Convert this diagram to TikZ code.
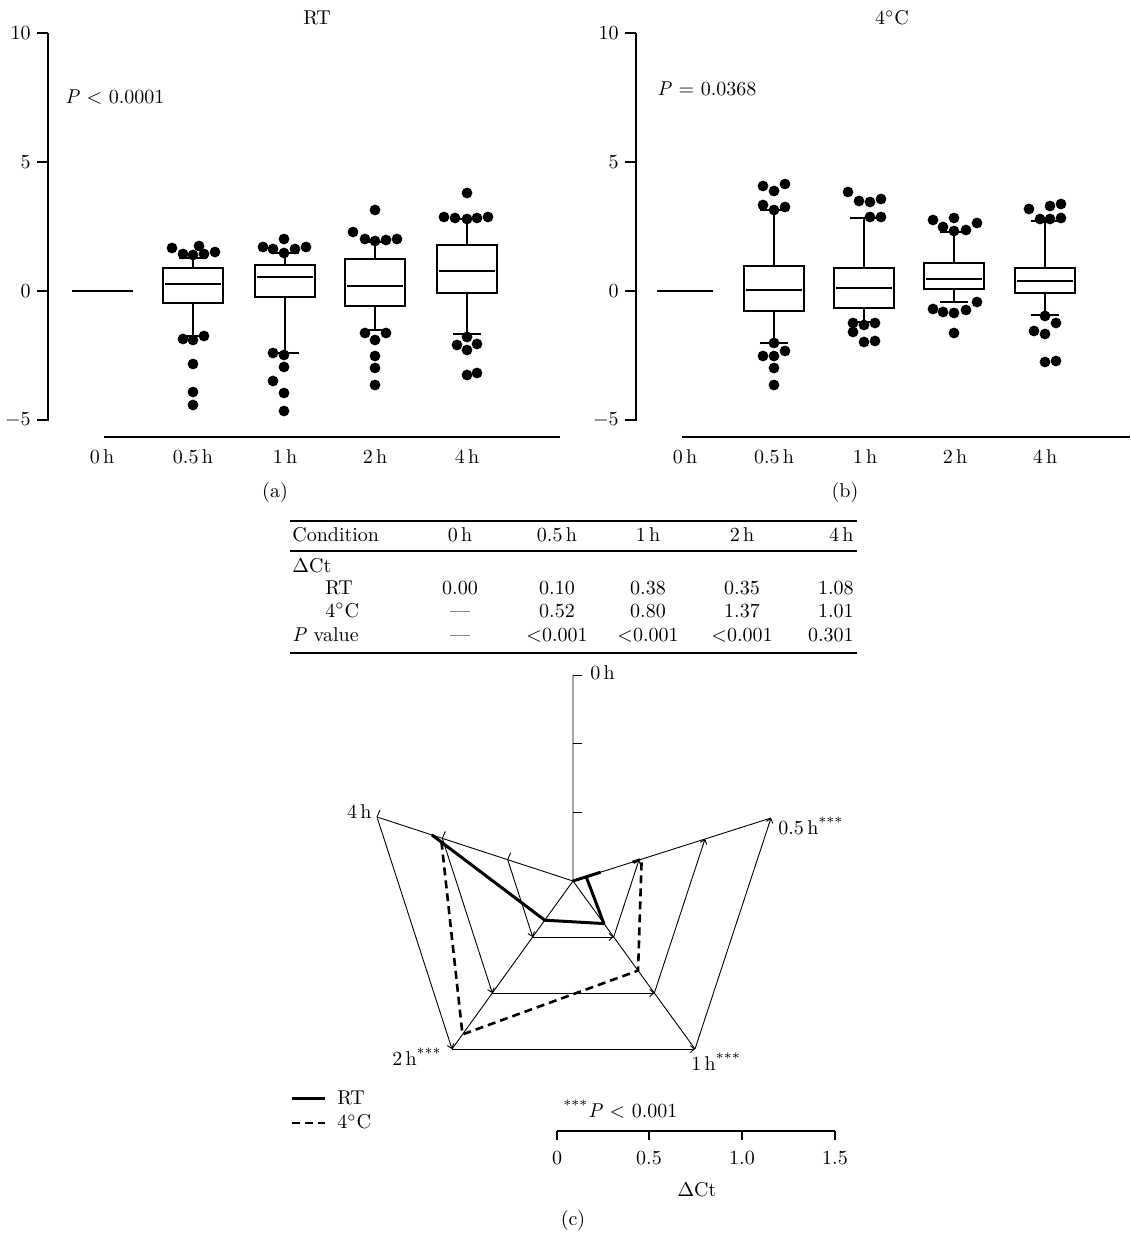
\documentclass[tikz,border=0pt]{standalone}
\usetikzlibrary{calc, arrows.meta}

\begin{document}
\begin{tikzpicture}[x=0.5pt, y=-0.5pt,
                    every node/.style={font=\fontsize{10}{12}\selectfont, inner sep=1pt},
                    axisline/.style={line width=0.65pt},
                    boxline/.style={line width=0.6pt},
                    datadot/.style={fill=black},
                    web/.style={line width=0.45pt},
                    webtip/.style={line width=0.45pt, -{Straight Barb[length=2pt,width=3.5pt]}},
                    rtline/.style={line width=1.5pt, line join=round},
                    coldline/.style={line width=1.3pt, dash pattern=on 4pt off 2.5pt},
                    rule/.style={line width=0.8pt}]
\useasboundingbox (0,0) rectangle (1130,1237);

% (a) and (b): box plots
\node (titleRT) at (317,18) {RT};
\node (titleCold) at (892,18) {4$^{\circ}$C};
\node[anchor=west] (pRT) at (63,97) {\textit{P} ${<}$ 0.0001};
\node[anchor=west] (pCold) at (655,89) {\textit{P} = 0.0368};
\draw[axisline] (48,33) -- (48,421);
\draw[axisline] (636,33) -- (636,421);
\foreach \y/\lab in {33/10, 162/5, 291/0, 420/$-5$} {
  \draw[axisline] (37,\y) -- (48,\y);
  \draw[axisline] (625,\y) -- (636,\y);
  \node[anchor=east] at (33,\y) {\lab};
  \node[anchor=east] at (621,\y) {\lab};
}
\draw[axisline] (104,437) -- (560,437);
\draw[axisline] (682,437) -- (1130,437);
\foreach \xa/\xb/\lab in {102/685/0\,h, 193/774/0.5\,h, 285/865/1\,h, 375/955/2\,h, 467/1045/4\,h} {
  \node at (\xa,457) {\lab};
  \node at (\xb,457) {\lab};
}
\node (capA) at (275,492) {(a)};
\node (capB) at (845,492) {(b)};
\draw[line width=0.9pt] (72,291) -- (133,291);
\draw[boxline] (657,291) -- (713,291);
\foreach \cx/\wt/\qt/\md/\qb/\wb in {193/258/268/284/303/336, 285/253/265/277/297/353,
    375/242/259/286/306/330, 467/219/245/271/293/334, 774/210/266/290/311/343,
    864/218/268/288/308/322, 954/232/263/279/289/302, 1045/221/268/281/293/315} {
  \draw[boxline] (\cx-30,\qt) rectangle (\cx+30,\qb);
  \draw[boxline] (\cx-28,\md) -- (\cx+28,\md);
  \draw[boxline] (\cx,\qt) -- (\cx,\wt) (\cx-14,\wt) -- (\cx+14,\wt);
  \draw[boxline] (\cx,\qb) -- (\cx,\wb) (\cx-14,\wb) -- (\cx+14,\wb);
}
\foreach \p in {(172,248),(183,254),(193,255),(199,246),(204,254),(215,252),
    (183,339),(193,340),(204,336),(193,364),(193,392),(193,405),
    (263,247),(273,249),(284,239),(284,253),(295,249),(306,247),
    (273,353),(284,355),(284,367),(273,381),(284,393),(284,411),
    (353,232),(365,239),(375,210),(375,241),(386,240),(397,239),
    (365,333),(375,340),(386,333),(375,356),(375,368),(375,385),
    (444,217),(455,218),(467,193),(467,219),(477,218),(488,217),
    (457,345),(467,350),(467,337),(477,344),(467,375),(477,373),
    (763,186),(774,191),(785,184),(763,205),(774,210),(785,207),
    (774,343),(785,351),(763,356),(774,356),(774,368),(774,385),
    (848,192),(859,201),(870,202),(881,199),(870,217),(881,217),
    (853,323),(864,325),(875,323),(853,332),(864,342),(875,341),
    (933,220),(943,227),(954,218),(954,231),(966,230),(977,223),
    (933,309),(943,312),(954,313),(966,310),(977,302),(954,333),
    (1029,209),(1040,219),(1050,206),(1050,219),(1061,204),(1061,218),
    (1045,316),(1056,323),(1034,331),(1045,334),(1045,362),(1056,361)}
  \fill[datadot] \p circle[radius=2.7pt];

% table
\draw[rule] (290,521) -- (857,521);
\draw[line width=0.6pt] (290,551) -- (857,551);
\draw[rule] (290,653) -- (857,653);
\node[anchor=base west] (cond) at (290,541) {Condition};
\node[anchor=base west] (dct) at (290,572) {$\Delta$Ct};
\node[anchor=base west] (rowRT) at (323,594) {RT};
\node[anchor=base west] (rowCold) at (323,617) {4$^{\circ}$C};
\node[anchor=base west] (rowP) at (290,641) {\textit{P} value};
\foreach \x/\hd/\rt/\cd/\pv in {460/0\,h/0.00/---/---, 557/0.5\,h/0.10/0.52/${<}$0.001,
    648/1\,h/0.38/0.80/${<}$0.001, 742/2\,h/0.35/1.37/${<}$0.001} {
  \node[anchor=base] at (\x,541) {\hd};
  \node[anchor=base] at (\x,594) {\rt};
  \node[anchor=base] at (\x,617) {\cd};
  \node[anchor=base] at (\x,641) {\pv};
}
\node[anchor=base east] at (856,541) {4\,h};
\node[anchor=base east] at (856,594) {1.08};
\node[anchor=base east] at (856,617) {1.01};
\node[anchor=base east] at (856,641) {0.301};

% (c): radar
\coordinate (C) at (573,881);
\coordinate (h0) at (573,675);
\coordinate (h05) at (771,818);
\coordinate (h1) at (695,1049);
\coordinate (h2) at (452,1049);
\coordinate (h4) at (377,817);
\draw[web] (C) -- (h0) (C) -- (h05) (C) -- (h1) (C) -- (h2) (C) -- (h4);
\foreach \f in {0.3333,0.6667,1} {
  \draw[webtip] ($(C)!\f!(h4)$) -- ($(C)!\f!(h2)$);
  \draw[webtip] ($(C)!\f!(h2)$) -- ($(C)!\f!(h1)$);
  \draw[webtip] ($(C)!\f!(h1)$) -- ($(C)!\f!(h05)$);
  \draw[web] ($(C)!\f!(h4)$) -- ++(3,-7);
  \draw[web] ($(C)!\f!(h0)$) -- ++(9,0);
}
\draw[rtline] (C) -- ($(C)!0.14!(h05)$);
\draw[rtline] ($(C)!0.0667!(h05)$) -- ($(C)!0.2533!(h1)$) -- ($(C)!0.2333!(h2)$) -- ($(C)!0.72!(h4)$);
\draw[coldline] ($(C)!0.30!(h05)$) -- ($(C)!0.3467!(h05)$) -- ($(C)!0.5333!(h1)$) -- ($(C)!0.9133!(h2)$) -- ($(C)!0.6733!(h4)$);
\node[anchor=west] (lab0) at (588,673) {0\,h};
\node[anchor=west] (lab05) at (776,826) {0.5\,h\textsuperscript{***}};
\node[anchor=east] (lab4) at (374,812) {4\,h};
\node[anchor=east] (lab2) at (444,1057) {2\,h\textsuperscript{***}};
\node[anchor=west] (lab1) at (689,1062) {1\,h\textsuperscript{***}};

% legend and scale
\draw[rtline] (292,1098) -- (325,1098);
\draw[coldline] (292,1123) -- (325,1123);
\node[anchor=west] (legRT) at (335,1098) {RT};
\node[anchor=west] (legCold) at (335,1122) {4$^{\circ}$C};
\node[anchor=west] (pnote) at (561,1109) {\textsuperscript{***}\textit{P} ${<}$ 0.001};
\draw[axisline] (557,1131) -- (835,1131);
\foreach \x/\lab in {557/0, 649/0.5, 742/1.0, 835/1.5} {
  \draw[axisline] (\x,1131) -- (\x,1140);
  \node at (\x,1158) {\lab};
}
\node (dctAxis) at (697,1190) {$\Delta$Ct};
\node (capC) at (573,1220) {(c)};
\end{tikzpicture}
\end{document}
